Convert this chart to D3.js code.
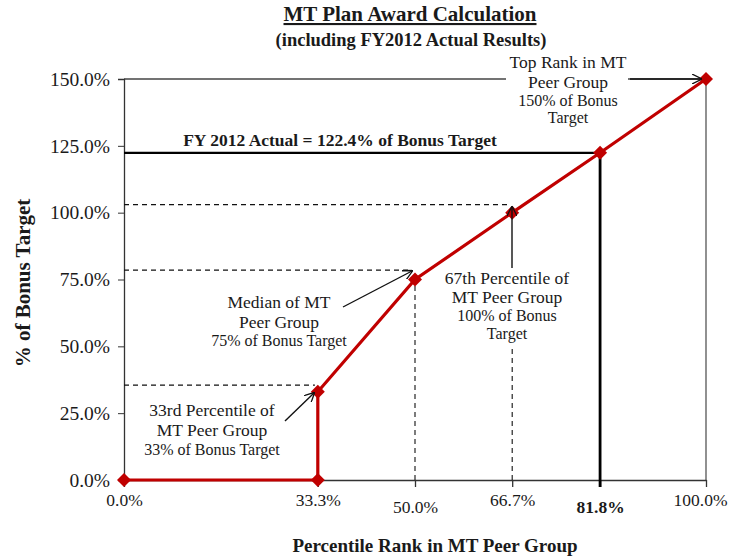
<!DOCTYPE html>
<html>
<head>
<meta charset="utf-8">
<script src="https://cdn.jsdelivr.net/npm/d3@7"></script>
<style>
body { margin: 0; background: #fff; }
text { font-family: "Liberation Serif", "Times New Roman", serif; fill: #1a1a1a; }
</style>
</head>
<body>
<script>
var width = 733, height = 557;

// data
var rankPct = [0, 33.3, 33.3, 50, 66.7, 81.8, 100];
var awardPct = [0, 0, 33, 75, 100, 122.4, 150];
var xTickVals = [0, 33.3, 50, 66.7, 81.8, 100];
var xTickLabels = ['0.0%', '33.3%', '50.0%', '66.7%', '81.8%', '100.0%'];
var yTickVals = [0, 25, 50, 75, 100, 125, 150];
var yTickLabels = ['0.0%', '25.0%', '50.0%', '75.0%', '100.0%', '125.0%', '150.0%'];
var actualRank = 81.8, actualAward = 122.4;

var points = rankPct.map(function(d, i){ return {x: d, y: awardPct[i]}; });

var svg = d3.select('body').append('svg')
	.attr('width', width)
	.attr('height', height);

var x = d3.scaleLinear().domain([0, 100]).range([124, 706]);
var y = d3.scaleLinear().domain([0, 150]).range([480, 79]);

svg.append('defs').append('marker')
	.attr('id', 'arr')
	.attr('viewBox', '0 0 10 10')
	.attr('refX', 9).attr('refY', 5)
	.attr('markerWidth', 10).attr('markerHeight', 10)
	.attr('markerUnits', 'userSpaceOnUse')
	.attr('orient', 'auto')
	.append('path')
		.attr('d', 'M0,0 L10,5 L0,10')
		.attr('fill', 'none')
		.attr('stroke', '#111')
		.attr('stroke-width', 1.3);

// titles
svg.append('text')
	.attr('x', 410).attr('y', 21)
	.attr('text-anchor', 'middle')
	.attr('font-size', 21).attr('font-weight', 'bold')
	.attr('text-decoration', 'underline')
	.text('MT Plan Award Calculation');
svg.append('text')
	.attr('x', 411).attr('y', 46)
	.attr('text-anchor', 'middle')
	.attr('font-size', 18.5).attr('font-weight', 'bold')
	.text('(including FY2012 Actual Results)');

// frame: top and right border
svg.append('line')
	.attr('x1', x(0)).attr('x2', x(100))
	.attr('y1', y(150)).attr('y2', y(150))
	.attr('stroke', '#444').attr('stroke-width', 1.3);
svg.append('line')
	.attr('x1', x(100)).attr('x2', x(100))
	.attr('y1', y(150)).attr('y2', y(0))
	.attr('stroke', '#555').attr('stroke-width', 1.3);

// y axis
var yAxis = svg.append('g')
	.attr('transform', 'translate(' + x(0) + ',0)')
	.call(d3.axisLeft(y).tickValues(yTickVals)
		.tickFormat(function(d, i){ return yTickLabels[i]; })
		.tickSize(6).tickPadding(8));
yAxis.select('.domain').attr('stroke', '#333').attr('stroke-width', 1.3);
yAxis.selectAll('.tick line').attr('stroke', '#333');
yAxis.selectAll('text').attr('font-size', 19.5).attr('fill', '#1a1a1a')
	.style('font-family', '"Liberation Serif", serif');

// x axis
var xAxis = svg.append('g')
	.attr('transform', 'translate(0,' + y(0) + ')')
	.call(d3.axisBottom(x).tickValues(xTickVals)
		.tickFormat(function(d, i){ return xTickLabels[i]; })
		.tickSize(7).tickPadding(8).tickSizeOuter(0));
xAxis.select('.domain').attr('stroke', '#333').attr('stroke-width', 1.3);
xAxis.selectAll('.tick line').attr('stroke', '#333').attr('stroke-width', 1.3);
xAxis.selectAll('text').attr('font-size', 17.5).attr('fill', '#1a1a1a')
	.style('font-family', '"Liberation Serif", serif')
	.attr('dy', 0)
	.attr('dx', function(d){ return d === 100 ? -6 : 0; })
	.attr('y', function(d){ return (d === 50 || d === 81.8) ? 33 : 26; })
	.attr('font-weight', function(d){ return d === 81.8 ? 'bold' : 'normal'; });

// axis titles
svg.append('text')
	.attr('transform', 'translate(30,283) rotate(-90)')
	.attr('text-anchor', 'middle')
	.attr('font-size', 21).attr('font-weight', 'bold')
	.text('% of Bonus Target');
svg.append('text')
	.attr('x', 435).attr('y', 552)
	.attr('text-anchor', 'middle')
	.attr('font-size', 19).attr('font-weight', 'bold')
	.text('Percentile Rank in MT Peer Group');

// dashed guides
var dashed = [
	{x1: 0, y1: 35.5, x2: 32.8, y2: 35.5},
	{x1: 0, y1: 78.5, x2: 49, y2: 78.5},
	{x1: 0, y1: 103, x2: 66, y2: 103},
	{x1: 50, y1: 0, x2: 50, y2: 76.5},
	{x1: 66.7, y1: 0, x2: 66.7, y2: 50.5}
];
svg.selectAll('line.dash').data(dashed)
	.enter().append('line')
		.attr('class', 'dash')
		.attr('x1', function(d){ return x(d.x1); })
		.attr('x2', function(d){ return x(d.x2); })
		.attr('y1', function(d){ return y(d.y1); })
		.attr('y2', function(d){ return y(d.y2); })
		.attr('stroke', '#111').attr('stroke-width', 1.1)
		.attr('stroke-dasharray', '5,4');

// actual result lines
svg.append('line')
	.attr('x1', x(0)).attr('x2', x(actualRank))
	.attr('y1', y(actualAward)).attr('y2', y(actualAward))
	.attr('stroke', '#000').attr('stroke-width', 2.2);
svg.append('line')
	.attr('x1', x(actualRank)).attr('x2', x(actualRank))
	.attr('y1', y(actualAward)).attr('y2', y(0) + 7)
	.attr('stroke', '#000').attr('stroke-width', 2.8);
svg.append('text')
	.attr('x', 340).attr('y', y(actualAward) - 7)
	.attr('text-anchor', 'middle')
	.attr('font-size', 17.5).attr('font-weight', 'bold')
	.text('FY 2012 Actual = 122.4% of Bonus Target');

// award line
var line = d3.line().x(function(d){ return x(d.x); }).y(function(d){ return y(d.y); });
svg.append('path')
	.datum(points)
	.attr('d', line)
	.attr('fill', 'none')
	.attr('stroke', '#c00000')
	.attr('stroke-width', 3.2);

svg.selectAll('path.pt').data(points)
	.enter().append('path')
		.attr('class', 'pt')
		.attr('d', 'M0,-7 L7,0 L0,7 L-7,0 Z')
		.attr('transform', function(d){ return 'translate(' + x(d.x) + ',' + y(d.y) + ')'; })
		.attr('fill', '#c00000');

// annotations
var notes = [
	{cx: 212, lines: [['33rd Percentile  of', 17.5, 416], ['MT Peer Group', 17.5, 436], ['33% of Bonus Target', 16, 455]],
		arrow: [285, 421, 314, 393]},
	{cx: 279, lines: [['Median of MT', 17.5, 308], ['Peer Group', 17.5, 328], ['75% of Bonus Target', 16, 346]],
		arrow: [343, 307, 412, 271]},
	{cx: 507, lines: [['67th Percentile  of', 17.5, 284], ['MT Peer Group', 17.5, 303], ['100% of Bonus', 16, 321], ['Target', 16, 339]],
		arrow: [512, 268, 512, 207]},
	{cx: 568, lines: [['Top Rank in MT', 17.5, 68], ['Peer Group', 17.5, 88], ['150% of Bonus', 16, 106], ['Target', 16, 123]],
		arrow: [630, 79, 701, 79]}
];

// white box behind the top-rank label so it breaks the frame line
svg.append('rect')
	.attr('x', 506).attr('y', 70).attr('width', 122).attr('height', 16)
	.attr('fill', '#fff');

notes.forEach(function(n){
	n.lines.forEach(function(l){
		svg.append('text')
			.attr('x', n.cx).attr('y', l[2])
			.attr('text-anchor', 'middle')
			.attr('font-size', l[1])
			.text(l[0]);
	});
	svg.append('line')
		.attr('x1', n.arrow[0]).attr('y1', n.arrow[1])
		.attr('x2', n.arrow[2]).attr('y2', n.arrow[3])
		.attr('stroke', '#111').attr('stroke-width', 1.4)
		.attr('marker-end', 'url(#arr)');
});
</script>
</body>
</html>
